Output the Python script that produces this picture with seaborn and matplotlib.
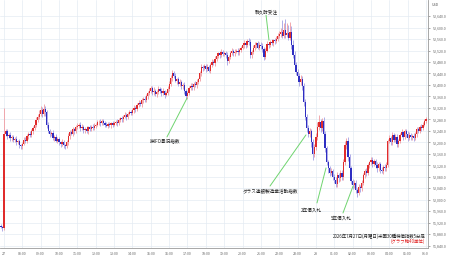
import matplotlib
matplotlib.use("Agg")
import matplotlib.pyplot as plt
from matplotlib.transforms import Bbox, TransformedBbox
import numpy as np
import seaborn as sns

# 5-minute closes, one row per hour (first row = two bars before the 07:00 open)
first_open = 51910
closes = [
    51905, 51900,
    52230, 52238, 52222, 52226, 52214, 52218, 52208, 52212, 52200, 52204, 52190, 52186,  # 07
    52196, 52210, 52205, 52222, 52230, 52226, 52238, 52250, 52262, 52278, 52290, 52300,  # 08
    52312, 52298, 52318, 52305, 52260, 52240, 52228, 52232, 52215, 52220, 52206, 52212,  # 09
    52200, 52195, 52202, 52190, 52186, 52200, 52222, 52236, 52230, 52245, 52240, 52252,  # 10
    52258, 52262, 52250, 52255, 52242, 52246, 52238, 52252, 52248, 52255, 52250, 52258,  # 11
    52262, 52270, 52272, 52266, 52274, 52268, 52262, 52258, 52264, 52260, 52266, 52262,  # 12
    52268, 52272, 52266, 52278, 52284, 52280, 52290, 52295, 52288, 52300, 52306, 52302,  # 13
    52312, 52320, 52316, 52330, 52338, 52334, 52346, 52352, 52348, 52362, 52372, 52380,  # 14
    52388, 52376, 52380, 52368, 52374, 52386, 52380, 52372, 52378, 52366, 52372, 52385,  # 15
    52405, 52425, 52440, 52432, 52415, 52420, 52404, 52410, 52395, 52400, 52380, 52360,  # 16
    52372, 52390, 52398, 52392, 52405, 52400, 52412, 52420, 52440, 52462, 52458, 52466,  # 17
    52455, 52462, 52450, 52470, 52480, 52476, 52492, 52500, 52510, 52505, 52514, 52508,  # 18
    52512, 52505, 52482, 52498, 52512, 52518, 52510, 52516, 52520, 52514, 52522, 52530,  # 19
    52538, 52545, 52540, 52552, 52548, 52505, 52515, 52530, 52538, 52545, 52530, 52540,  # 20
    52535, 52525, 52498, 52520, 52542, 52540, 52550, 52545, 52555, 52552, 52560, 52570,  # 21
    52578, 52585, 52570, 52590, 52575, 52580, 52565, 52585, 52540, 52505, 52470, 52445,  # 22
    52430, 52410, 52420, 52395, 52340, 52290, 52250, 52230, 52240, 52200, 52160, 52185,  # 23
    52220, 52255, 52270, 52250, 52275, 52230, 52180, 52130, 52110, 52095, 52100, 52080,  # 00
    52070, 52055, 52085, 52075, 52095, 52080, 52130, 52190, 52205, 52150, 52110, 52065,  # 01
    52050, 52060, 52035, 52025, 52045, 52040, 52060, 52085, 52100, 52095, 52120, 52130,  # 02
    52140, 52125, 52135, 52120, 52110, 52125, 52105, 52100, 52115, 52110, 52120, 52205,  # 03
    52215, 52200, 52225, 52210, 52220, 52195, 52205, 52225, 52235, 52220, 52238, 52230,  # 04
    52215, 52225, 52218, 52222, 52215, 52230, 52245, 52240, 52255, 52250, 52262, 52275,  # 05
    52280,
]
# upper / lower wick lengths beyond the body
wick_up = [
    5, 5,
    90, 10, 8, 6, 10, 8, 6, 8, 10, 6, 8, 6,
    6, 8, 10, 8, 6, 10, 8, 6, 8, 10, 8, 12,
    15, 12, 14, 10, 8, 10, 6, 8, 10, 6, 8, 6,
    8, 6, 10, 8, 6, 8, 10, 6, 8, 10, 6, 8,
    8, 6, 10, 8, 6, 8, 10, 6, 8, 6, 10, 8,
    6, 8, 6, 10, 8, 6, 8, 10, 6, 8, 6, 8,
    8, 6, 10, 8, 6, 8, 6, 10, 8, 6, 8, 6,
    8, 10, 6, 8, 10, 6, 8, 6, 10, 8, 6, 10,
    10, 8, 12, 6, 8, 10, 6, 8, 10, 6, 8, 10,
    8, 10, 12, 8, 10, 6, 8, 10, 6, 8, 10, 6,
    8, 6, 10, 8, 6, 8, 10, 6, 8, 10, 8, 6,
    8, 10, 6, 8, 10, 6, 8, 10, 6, 8, 10, 8,
    6, 8, 10, 6, 8, 10, 6, 8, 6, 10, 8, 6,
    8, 10, 6, 8, 10, 12, 6, 8, 10, 6, 8, 10,
    8, 10, 6, 8, 10, 6, 8, 10, 6, 8, 10, 12,
    10, 12, 40, 25, 40, 35, 30, 35, 20, 15, 12, 10,
    12, 10, 14, 10, 12, 10, 8, 12, 10, 8, 12, 10,
    12, 15, 25, 12, 10, 15, 10, 8, 10, 8, 10, 8,
    10, 8, 12, 10, 8, 10, 12, 15, 10, 12, 10, 8,
    8, 10, 8, 6, 10, 8, 10, 8, 6, 10, 8, 6,
    8, 10, 6, 8, 10, 6, 8, 10, 6, 8, 10, 8,
    10, 8, 10, 6, 8, 10, 6, 8, 10, 6, 8, 10,
    8, 10, 6, 8, 10, 6, 8, 10, 6, 8, 10, 8,
    8,
]
wick_dn = [
    5, 8,
    5, 8, 10, 6, 8, 10, 6, 8, 8, 6, 10, 8,
    8, 6, 8, 6, 10, 8, 6, 8, 6, 8, 6, 8,
    8, 10, 6, 12, 10, 8, 10, 6, 8, 10, 6, 8,
    8, 10, 6, 8, 10, 6, 8, 10, 6, 8, 10, 6,
    6, 8, 10, 6, 8, 10, 6, 8, 10, 8, 6, 8,
    8, 6, 8, 10, 6, 8, 10, 6, 8, 6, 10, 8,
    6, 8, 10, 6, 8, 10, 8, 6, 10, 8, 6, 8,
    6, 8, 10, 6, 8, 6, 10, 8, 6, 8, 10, 6,
    8, 12, 10, 8, 10, 6, 8, 12, 8, 10, 6, 8,
    6, 8, 10, 8, 6, 10, 8, 6, 10, 8, 12, 10,
    10, 8, 6, 10, 8, 6, 10, 8, 6, 8, 10, 6,
    10, 8, 6, 10, 8, 6, 10, 8, 6, 10, 8, 6,
    8, 10, 12, 6, 8, 6, 10, 8, 6, 8, 10, 6,
    6, 8, 10, 6, 8, 12, 10, 6, 8, 10, 6, 8,
    8, 10, 12, 8, 6, 10, 8, 6, 10, 8, 6, 8,
    8, 10, 8, 6, 10, 8, 10, 8, 15, 12, 15, 12,
    12, 15, 10, 12, 15, 12, 15, 10, 12, 15, 20, 12,
    12, 10, 12, 15, 10, 15, 12, 10, 15, 12, 10, 12,
    10, 12, 10, 12, 10, 12, 10, 10, 12, 15, 12, 10,
    12, 10, 12, 15, 10, 12, 10, 8, 10, 12, 8, 10,
    8, 10, 8, 10, 12, 8, 10, 8, 10, 8, 10, 6,
    8, 10, 8, 10, 8, 12, 10, 8, 6, 10, 8, 10,
    10, 8, 10, 8, 10, 8, 10, 6, 8, 10, 8, 6,
    8,
]
hour_labels = ["27", "08:00", "09:00", "10:00", "11:00", "12:00", "13:00", "14:00",
               "15:00", "16:00", "17:00", "18:00", "19:00", "20:00", "21:00", "22:00",
               "23:00", "28", "01:00", "02:00", "03:00", "04:00", "05:00", "06:00"]
y_ticks = list(range(51840, 52641, 40))

# event notes: text, text pos (bar index, price), line start, line end
notes = [
    ("耐久財受注", (171.4, 52657), (171.4, 52643), (173.3, 52556)),
    ("独IFO景況指数", (105.3, 52205), (106.6, 52219), (119.7, 52354)),
    ("ダラス連銀製造業活動指数", (174.6, 52031), (174.0, 52048), (197.5, 52226)),
    ("2年債入札", (200.8, 51964), (204.7, 51989), (210.6, 52111)),
    ("5年債入札", (220.4, 51936), (221.7, 51954), (228.3, 52048)),
]
caption = "2026年7月27日(月曜日)米国30種株価指数5分足"
caption_sub = "(グラフ軸40単位)"

sns.set_theme(style="whitegrid")
plt.rcParams["font.family"] = ["Noto Sans CJK JP", "DejaVu Sans"]

idx = np.arange(len(closes)) - 2
c = np.array(closes, dtype=float)
o = np.concatenate([[first_open], c[:-1]])
top = np.maximum(o, c)
bot = np.minimum(o, c)
hi = top + np.array(wick_up)
lo = bot - np.array(wick_dn)
up = c >= o

fig = plt.figure(figsize=(4.5, 2.58), dpi=100)
ax = fig.add_axes([0, 10 / 258, 428 / 450, 248 / 258])
ax.set_facecolor("white")

ax.vlines(idx[up], lo[up], hi[up], colors="#f09aa0", lw=0.6, zorder=2)
ax.vlines(idx[~up], lo[~up], hi[~up], colors="#a29fe4", lw=0.6, zorder=2)
ax.bar(idx, np.maximum(top - bot, 2), bottom=bot, width=0.8,
       color=np.where(up, "#e02c2c", "#2e2ec2"), linewidth=0, zorder=3)

for txt, tpos, p0, p1 in notes:
    ax.plot([p0[0], p1[0]], [p0[1], p1[1]], color="#6fd46f", lw=0.7, zorder=4)
    ax.text(tpos[0], tpos[1], txt, fontsize=3.3, ha="center", va="center",
            color="#222222", zorder=5)

ax.set_xlim(-2.6, 277.3)
ax.set_ylim(51832, 52696)
ax.set_xticks(np.arange(0, 24 * 12, 12))
ax.set_xticklabels(hour_labels)
ax.set_yticks(y_ticks)
ax.set_yticklabels([f"{v:,.1f}" for v in y_ticks])
ax.yaxis.tick_right()
ax.tick_params(axis="both", labelsize=2.6, colors="#666666", length=1.5, width=0.4, pad=2)
ax.tick_params(axis="x", pad=1.5)
ax.grid(True, color="#e4ebf3", lw=0.5)
for side in ["left", "top"]:
    ax.spines[side].set_visible(False)
for side in ["right", "bottom"]:
    ax.spines[side].set_color("#9a9a9a")
    ax.spines[side].set_linewidth(0.6)

# clip x labels at the right edge of the plot area
clip = TransformedBbox(Bbox([[0, 0], [428 / 450, 1]]), fig.transFigure)
for lab in ax.get_xticklabels():
    lab.set_clip_box(clip)
    lab.set_clip_on(True)

fig.text(432 / 450, 1 - 5 / 258, "USD", fontsize=2.6, color="#555555", va="center")
ax.text(275.5, 52667 - 3.483 * 228, caption, fontsize=3.2, ha="right", va="center", color="#222222", zorder=5)
ax.text(275.5, 52667 - 3.483 * 233.5, caption_sub, fontsize=3.2, ha="right", va="center", color="#e02020", zorder=5)

fig.savefig("out.png", dpi=100)
